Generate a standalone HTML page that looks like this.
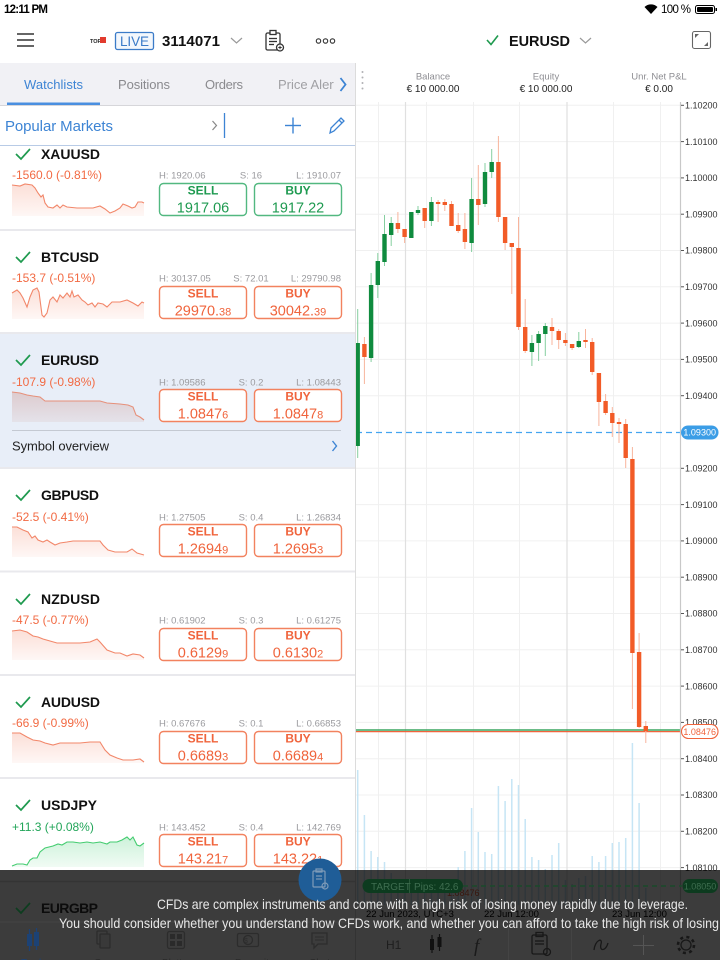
<!DOCTYPE html>
<html><head><meta charset="utf-8">
<style>
html,body{margin:0;padding:0;background:#fff;width:720px;height:960px;overflow:hidden}
svg{display:block;font-family:"Liberation Sans",Arial,sans-serif}
</style></head><body>
<svg width="720" height="960" viewBox="0 0 720 960" xmlns="http://www.w3.org/2000/svg">
<defs>
<linearGradient id="gr" x1="0" y1="0" x2="0" y2="1"><stop offset="0" stop-color="#f27a5a" stop-opacity="0.24"/><stop offset="1" stop-color="#f27a5a" stop-opacity="0.06"/></linearGradient>
<linearGradient id="ge" x1="0" y1="0" x2="0" y2="1"><stop offset="0" stop-color="#c98a80" stop-opacity="0.35"/><stop offset="1" stop-color="#c98a80" stop-opacity="0.12"/></linearGradient>
<linearGradient id="gg" x1="0" y1="0" x2="0" y2="1"><stop offset="0" stop-color="#4cd07a" stop-opacity="0.28"/><stop offset="1" stop-color="#4cd07a" stop-opacity="0.08"/></linearGradient>
<clipPath id="chart"><rect x="356" y="102" width="364" height="858"/></clipPath>
<clipPath id="tabclip"><rect x="0" y="63" width="334" height="42"/></clipPath>
</defs>

<!-- status bar -->
<text x="4" y="13" font-size="11.5" font-weight="bold" textLength="44" fill="#000">12:11 PM</text>
<path d="M651,14 L644.5,7 A9.5,9.5 0 0 1 657.5,7 Z" fill="#000"/>
<text x="661" y="13" font-size="11.5" textLength="30" fill="#000">100 %</text>
<rect x="695.5" y="5.5" width="19" height="8" rx="2" fill="none" stroke="#000" stroke-width="1"/>
<rect x="697" y="7" width="16" height="5" rx="1" fill="#000"/>
<rect x="715.5" y="8" width="1.5" height="3" fill="#000"/>

<!-- header -->
<g stroke="#333" stroke-width="1.6"><line x1="17" y1="34" x2="34" y2="34"/><line x1="17" y1="40" x2="34" y2="40"/><line x1="17" y1="46" x2="34" y2="46"/></g>
<text x="90" y="43" font-size="5.5" font-weight="bold" fill="#222">TOP</text>
<rect x="100" y="37" width="6" height="6" fill="#e23b2e"/>
<rect x="115.5" y="32.5" width="38" height="17" rx="2" fill="#f3f7fc" stroke="#3b7bc8" stroke-width="1.3"/>
<text x="134.5" y="46" font-size="13.5" text-anchor="middle" fill="#3b7bc8" textLength="29">LIVE</text>
<text x="162" y="46" font-size="15" font-weight="bold" fill="#111" textLength="58">3114071</text>
<polyline points="231,38 236.5,43 242,38" fill="none" stroke="#999" stroke-width="1.2"/>
<g fill="none" stroke="#333" stroke-width="1.3">
<rect x="266" y="33" width="14" height="17" rx="1.5"/>
<rect x="270" y="30.5" width="6" height="4" fill="#fff"/>
<line x1="269" y1="38.5" x2="277" y2="38.5"/><line x1="269" y1="41.5" x2="277" y2="41.5"/><line x1="269" y1="44.5" x2="274" y2="44.5"/>
<circle cx="280" cy="47.5" r="3.5" fill="#fff"/>
</g>
<g stroke="#333" stroke-width="1"><line x1="278.3" y1="47.5" x2="281.7" y2="47.5"/><line x1="280" y1="45.8" x2="280" y2="49.2"/></g>
<g fill="none" stroke="#333" stroke-width="1.1"><circle cx="318.5" cy="41" r="2.2"/><circle cx="325.5" cy="41" r="2.2"/><circle cx="332.5" cy="41" r="2.2"/></g>

<polyline points="487,40 491,44.5 498,35.5" fill="none" stroke="#1f9a4f" stroke-width="1.6"/>
<text x="509" y="46" font-size="14.5" font-weight="bold" fill="#111" textLength="61">EURUSD</text>
<polyline points="580,38 585.5,43 591,38" fill="none" stroke="#999" stroke-width="1.2"/>
<rect x="692.5" y="31.5" width="18" height="17" rx="2" fill="none" stroke="#666" stroke-width="1.1"/>
<path d="M695,34 L699,34 L695,38 Z" fill="#666"/><path d="M708,46 L704,46 L708,42 Z" fill="#666"/>

<!-- left tab bar -->
<rect x="0" y="63" width="355" height="42" fill="#f1f1f5"/>
<g clip-path="url(#tabclip)" font-size="13">
<text x="24" y="89" fill="#3d84d4" textLength="59">Watchlists</text>
<text x="118" y="89" fill="#8a8a8e" textLength="52">Positions</text>
<text x="205" y="89" fill="#8a8a8e" textLength="38">Orders</text>
<text x="278" y="89" fill="#a0a0a4">Price Alerts</text>
</g>
<polyline points="340.5,78 345.5,84.5 340.5,91" fill="none" stroke="#3d84d4" stroke-width="1.8"/>
<rect x="7" y="102.5" width="93" height="2.5" fill="#4a8fe0"/>
<line x1="0" y1="105.5" x2="355" y2="105.5" stroke="#d6d6da" stroke-width="1"/>

<!-- account info -->
<g fill="#b0b0b4"><circle cx="362.5" cy="72" r="1"/><circle cx="362.5" cy="77.5" r="1"/><circle cx="362.5" cy="83" r="1"/><circle cx="362.5" cy="88.5" r="1"/></g>
<g text-anchor="middle">
<text x="433" y="79.5" font-size="9.5" fill="#8e8e93">Balance</text>
<text x="433" y="92" font-size="10" fill="#222">€ 10 000.00</text>
<text x="546" y="79.5" font-size="9.5" fill="#8e8e93">Equity</text>
<text x="546" y="92" font-size="10" fill="#222">€ 10 000.00</text>
<text x="659" y="79.5" font-size="9.5" fill="#8e8e93">Unr. Net P&amp;L</text>
<text x="659" y="92" font-size="10" fill="#222">€ 0.00</text>
</g>

<!-- popular markets -->
<text x="5" y="131" font-size="15" fill="#3d84d4" textLength="108">Popular Markets</text>
<polyline points="212.5,121 216.5,125.5 212.5,130" fill="none" stroke="#888" stroke-width="1.2"/>
<line x1="224.5" y1="113" x2="224.5" y2="138" stroke="#3d84d4" stroke-width="1.3"/>
<g stroke="#3d84d4" stroke-width="1.4"><line x1="285" y1="125.5" x2="301" y2="125.5"/><line x1="293" y1="117.5" x2="293" y2="133.5"/></g>
<g fill="none" stroke="#3d84d4" stroke-width="1.3"><path d="M330,133 L331,128 L341,118 L344,121 L334,131 Z"/><line x1="339" y1="120" x2="342" y2="123"/></g>

<!-- EURUSD highlight -->
<rect x="0" y="333" width="355" height="135" fill="#e8eef8"/>

<!-- separators -->
<g stroke="#e9e9ed" stroke-width="2">
<line x1="0" y1="230" x2="355" y2="230"/><line x1="0" y1="333" x2="355" y2="333"/><line x1="0" y1="468" x2="355" y2="468"/>
<line x1="0" y1="571.5" x2="355" y2="571.5"/><line x1="0" y1="675" x2="355" y2="675"/><line x1="0" y1="778" x2="355" y2="778"/>
</g>
<line x1="0" y1="145.5" x2="355" y2="145.5" stroke="#b8cbe6" stroke-width="1"/>
<line x1="12" y1="430.5" x2="341" y2="430.5" stroke="#c4c9d2" stroke-width="1"/>
<text x="12" y="450.5" font-size="13" fill="#222" textLength="97">Symbol overview</text>
<polyline points="332.5,441 336.5,446 332.5,451" fill="none" stroke="#3d84d4" stroke-width="1.4"/>

<!-- sparklines -->
<polygon fill="url(#gr)" points="12,185 20,186 25,184 32,185 35,188 38,193 41,197 43,195 45,203 48,207 53,208 57,205 60,208 63,205 67,207 77,208 87,208 93,208 100,206 105,209 110,213 115,211 120,208 123,204 128,206 132,208 135,207 138,202 142,202 144,203 144,216 12,216"/>
<polyline fill="none" stroke="#f2876a" stroke-width="1.1" points="12,185 20,186 25,184 32,185 35,188 38,193 41,197 43,195 45,203 48,207 53,208 57,205 60,208 63,205 67,207 77,208 87,208 93,208 100,206 105,209 110,213 115,211 120,208 123,204 128,206 132,208 135,207 138,202 142,202 144,203"/>
<polygon fill="url(#gr)" points="12,293 17,290 20,293 23,298 27,307 30,297 33,290 37,288 39,292 42,315 44,317 47,313 50,300 53,297 57,302 60,295 63,298 67,293 70,297 72,291 74,297 78,295 82,300 85,302 88,305 92,303 95,307 98,303 103,304 107,307 112,302 120,302 127,300 133,303 138,306 142,302 144,303 144,319 12,319"/>
<polyline fill="none" stroke="#f2876a" stroke-width="1.1" points="12,293 17,290 20,293 23,298 27,307 30,297 33,290 37,288 39,292 42,315 44,317 47,313 50,300 53,297 57,302 60,295 63,298 67,293 70,297 72,291 74,297 78,295 82,300 85,302 88,305 92,303 95,307 98,303 103,304 107,307 112,302 120,302 127,300 133,303 138,306 142,302 144,303"/>
<polygon fill="url(#ge)" points="12,392 20,393 27,395 33,396 40,397 45,401 53,401 67,401 83,401 100,401 107,403 120,404 128,405 133,407 136,415 140,417 144,420 144,422 12,422"/>
<polyline fill="none" stroke="#e6907a" stroke-width="1.1" points="12,392 20,393 27,395 33,396 40,397 45,401 53,401 67,401 83,401 100,401 107,403 120,404 128,405 133,407 136,415 140,417 144,420"/>
<polygon fill="url(#gr)" points="12,527 17,527 23,530 28,532 32,538 35,536 38,540 43,542 47,540 50,542 55,545 60,543 67,542 73,541 87,541 100,541 103,545 108,550 115,552 127,552 132,549 137,553 144,555 144,557 12,557"/>
<polyline fill="none" stroke="#f2876a" stroke-width="1.1" points="12,527 17,527 23,530 28,532 32,538 35,536 38,540 43,542 47,540 50,542 55,545 60,543 67,542 73,541 87,541 100,541 103,545 108,550 115,552 127,552 132,549 137,553 144,555"/>
<polygon fill="url(#gr)" points="12,631 20,630 27,632 33,636 38,637 43,639 50,641 57,643 67,643 80,643 90,642 97,639 100,642 107,650 115,653 120,653 127,656 133,654 140,655 144,658 144,660 12,660"/>
<polyline fill="none" stroke="#f2876a" stroke-width="1.1" points="12,631 20,630 27,632 33,636 38,637 43,639 50,641 57,643 67,643 80,643 90,642 97,639 100,642 107,650 115,653 120,653 127,656 133,654 140,655 144,658"/>
<polygon fill="url(#gr)" points="12,733 20,733 27,737 33,740 40,741 45,743 53,745 60,743 70,743 80,743 90,742 100,742 105,750 110,755 117,758 123,760 133,760 140,759 144,762 144,763 12,763"/>
<polyline fill="none" stroke="#f2876a" stroke-width="1.1" points="12,733 20,733 27,737 33,740 40,741 45,743 53,745 60,743 70,743 80,743 90,742 100,742 105,750 110,755 117,758 123,760 133,760 140,759 144,762"/>
<polygon fill="url(#gg)" points="12,866 17,864 23,864 27,865 30,860 33,858 37,858 40,852 45,848 53,846 58,844 62,845 67,842 73,842 80,843 87,842 93,843 100,842 107,844 110,842 117,842 122,840 127,837 130,840 133,837 137,845 140,846 144,843 144,867 12,867"/>
<polyline fill="none" stroke="#44cc70" stroke-width="1.1" points="12,866 17,864 23,864 27,865 30,860 33,858 37,858 40,852 45,848 53,846 58,844 62,845 67,842 73,842 80,843 87,842 93,843 100,842 107,844 110,842 117,842 122,840 127,837 130,840 133,837 137,845 140,846 144,843"/>

<!-- rows -->
<g font-size="14" font-weight="bold" fill="#111">
<text x="41" y="159" textLength="59">XAUUSD</text>
<text x="41" y="262" textLength="58">BTCUSD</text>
<text x="41" y="365" textLength="58">EURUSD</text>
<text x="41" y="500" textLength="58">GBPUSD</text>
<text x="41" y="604" textLength="59">NZDUSD</text>
<text x="41" y="707" textLength="59">AUDUSD</text>
<text x="41" y="810" textLength="56">USDJPY</text>
</g>
<g fill="none" stroke="#1f9a4f" stroke-width="1.7">
<polyline points="16,154 21,159 30,149"/><polyline points="16,257 21,262 30,252"/><polyline points="16,360 21,365 30,355"/>
<polyline points="16,495 21,500 30,490"/><polyline points="16,599 21,604 30,594"/><polyline points="16,702 21,707 30,697"/><polyline points="16,805 21,810 30,800"/>
</g>
<g font-size="12" fill="#f26a43">
<text x="12" y="179">-1560.0 (-0.81%)</text>
<text x="12" y="282">-153.7 (-0.51%)</text>
<text x="12" y="386">-107.9 (-0.98%)</text>
<text x="12" y="521">-52.5 (-0.41%)</text>
<text x="12" y="624">-47.5 (-0.77%)</text>
<text x="12" y="727">-66.9 (-0.99%)</text>
<text x="12" y="831" fill="#22a559">+11.3 (+0.08%)</text>
</g>
<g font-size="9.5" fill="#9a9a9e">
<text x="159" y="178.5">H: 1920.06</text><text x="251" y="178.5" text-anchor="middle">S: 16</text><text x="341" y="178.5" text-anchor="end">L: 1910.07</text>
<text x="159" y="281.5">H: 30137.05</text><text x="251" y="281.5" text-anchor="middle">S: 72.01</text><text x="341" y="281.5" text-anchor="end">L: 29790.98</text>
<text x="159" y="385.5">H: 1.09586</text><text x="251" y="385.5" text-anchor="middle">S: 0.2</text><text x="341" y="385.5" text-anchor="end">L: 1.08443</text>
<text x="159" y="520.5">H: 1.27505</text><text x="251" y="520.5" text-anchor="middle">S: 0.4</text><text x="341" y="520.5" text-anchor="end">L: 1.26834</text>
<text x="159" y="623.5">H: 0.61902</text><text x="251" y="623.5" text-anchor="middle">S: 0.3</text><text x="341" y="623.5" text-anchor="end">L: 0.61275</text>
<text x="159" y="726.5">H: 0.67676</text><text x="251" y="726.5" text-anchor="middle">S: 0.1</text><text x="341" y="726.5" text-anchor="end">L: 0.66853</text>
<text x="159" y="830.5">H: 143.452</text><text x="251" y="830.5" text-anchor="middle">S: 0.4</text><text x="341" y="830.5" text-anchor="end">L: 142.769</text>
</g>
<!-- buttons -->
<g fill="#fff" stroke-width="1.4">
<rect x="159.5" y="183.5" width="87" height="32" rx="4" stroke="#52b880"/><rect x="254.5" y="183.5" width="87" height="32" rx="4" stroke="#52b880"/>
<rect x="159.5" y="286.5" width="87" height="32" rx="4" stroke="#f2825f"/><rect x="254.5" y="286.5" width="87" height="32" rx="4" stroke="#f2825f"/>
<rect x="159.5" y="389.5" width="87" height="32" rx="4" stroke="#f2825f"/><rect x="254.5" y="389.5" width="87" height="32" rx="4" stroke="#f2825f"/>
<rect x="159.5" y="524.5" width="87" height="32" rx="4" stroke="#f2825f"/><rect x="254.5" y="524.5" width="87" height="32" rx="4" stroke="#f2825f"/>
<rect x="159.5" y="628.5" width="87" height="32" rx="4" stroke="#f2825f"/><rect x="254.5" y="628.5" width="87" height="32" rx="4" stroke="#f2825f"/>
<rect x="159.5" y="731.5" width="87" height="32" rx="4" stroke="#f2825f"/><rect x="254.5" y="731.5" width="87" height="32" rx="4" stroke="#f2825f"/>
<rect x="159.5" y="834.5" width="87" height="32" rx="4" stroke="#f2825f"/><rect x="254.5" y="834.5" width="87" height="32" rx="4" stroke="#f2825f"/>
</g>
<g font-size="12" font-weight="bold" text-anchor="middle" fill="#f0643c">
<text x="203" y="194.5" fill="#1e9a50">SELL</text><text x="298" y="194.5" fill="#1e9a50">BUY</text>
<text x="203" y="297.5">SELL</text><text x="298" y="297.5">BUY</text>
<text x="203" y="400.5">SELL</text><text x="298" y="400.5">BUY</text>
<text x="203" y="535.5">SELL</text><text x="298" y="535.5">BUY</text>
<text x="203" y="639.5">SELL</text><text x="298" y="639.5">BUY</text>
<text x="203" y="742.5">SELL</text><text x="298" y="742.5">BUY</text>
<text x="203" y="845.5">SELL</text><text x="298" y="845.5">BUY</text>
</g>
<g font-size="14.5" text-anchor="middle" fill="#f0643c">
<text x="203" y="212.5" fill="#1e9a50">1917.06</text><text x="298" y="212.5" fill="#1e9a50">1917.22</text>
<text x="203" y="315.5">29970.<tspan font-size="11">38</tspan></text><text x="298" y="315.5">30042.<tspan font-size="11">39</tspan></text>
<text x="203" y="418.5">1.0847<tspan font-size="11">6</tspan></text><text x="298" y="418.5">1.0847<tspan font-size="11">8</tspan></text>
<text x="203" y="553.5">1.2694<tspan font-size="11">9</tspan></text><text x="298" y="553.5">1.2695<tspan font-size="11">3</tspan></text>
<text x="203" y="657.5">0.6129<tspan font-size="11">9</tspan></text><text x="298" y="657.5">0.6130<tspan font-size="11">2</tspan></text>
<text x="203" y="760.5">0.6689<tspan font-size="11">3</tspan></text><text x="298" y="760.5">0.6689<tspan font-size="11">4</tspan></text>
<text x="203" y="863.5">143.21<tspan font-size="11">7</tspan></text><text x="298" y="863.5">143.22<tspan font-size="11">1</tspan></text>
</g>

<line x1="355.5" y1="63" x2="355.5" y2="960" stroke="#dcdcdc" stroke-width="1"/>

<!-- CHART -->
<g clip-path="url(#chart)">
<g stroke="#f0f0f0" stroke-width="1">
<line x1="356" y1="105.3" x2="680" y2="105.3"/><line x1="356" y1="141.6" x2="680" y2="141.6"/><line x1="356" y1="177.9" x2="680" y2="177.9"/>
<line x1="356" y1="214.2" x2="680" y2="214.2"/><line x1="356" y1="250.5" x2="680" y2="250.5"/><line x1="356" y1="286.8" x2="680" y2="286.8"/>
<line x1="356" y1="323.1" x2="680" y2="323.1"/><line x1="356" y1="359.4" x2="680" y2="359.4"/><line x1="356" y1="395.7" x2="680" y2="395.7"/>
<line x1="356" y1="468.3" x2="680" y2="468.3"/><line x1="356" y1="504.6" x2="680" y2="504.6"/><line x1="356" y1="540.9" x2="680" y2="540.9"/>
<line x1="356" y1="577.2" x2="680" y2="577.2"/><line x1="356" y1="613.5" x2="680" y2="613.5"/><line x1="356" y1="649.8" x2="680" y2="649.8"/>
<line x1="356" y1="686.1" x2="680" y2="686.1"/><line x1="356" y1="722.4" x2="680" y2="722.4"/><line x1="356" y1="758.7" x2="680" y2="758.7"/>
<line x1="356" y1="795" x2="680" y2="795"/><line x1="356" y1="831.3" x2="680" y2="831.3"/><line x1="356" y1="867.6" x2="680" y2="867.6"/>
<line x1="378.5" y1="102" x2="378.5" y2="910"/><line x1="426.5" y1="102" x2="426.5" y2="910"/><line x1="473.5" y1="102" x2="473.5" y2="910"/>
<line x1="519.5" y1="102" x2="519.5" y2="910"/><line x1="613.5" y1="102" x2="613.5" y2="910"/><line x1="660.5" y1="102" x2="660.5" y2="910"/>
</g>
<g stroke="#e0e0e0" stroke-width="1.2"><line x1="405.5" y1="102" x2="405.5" y2="910"/><line x1="567" y1="102" x2="567" y2="910"/></g>

<!-- volume -->
<g stroke="#c6e5f5" stroke-width="1.5">
<line x1="357.7" y1="770" x2="357.7" y2="905"/><line x1="364.4" y1="815" x2="364.4" y2="905"/><line x1="371.1" y1="851" x2="371.1" y2="905"/>
<line x1="377.8" y1="857" x2="377.8" y2="905"/><line x1="384.5" y1="862" x2="384.5" y2="905"/><line x1="391.2" y1="873" x2="391.2" y2="905"/>
<line x1="397.9" y1="885" x2="397.9" y2="905"/><line x1="404.6" y1="888" x2="404.6" y2="905"/><line x1="411.3" y1="884" x2="411.3" y2="905"/>
<line x1="418" y1="890" x2="418" y2="905"/><line x1="424.7" y1="886" x2="424.7" y2="905"/><line x1="431.4" y1="884" x2="431.4" y2="905"/>
<line x1="438.1" y1="889" x2="438.1" y2="905"/><line x1="444.8" y1="889" x2="444.8" y2="905"/><line x1="451.5" y1="880" x2="451.5" y2="905"/>
<line x1="458.2" y1="867" x2="458.2" y2="905"/><line x1="464.9" y1="851" x2="464.9" y2="905"/><line x1="471.6" y1="808" x2="471.6" y2="905"/>
<line x1="478.3" y1="832" x2="478.3" y2="905"/><line x1="485" y1="852" x2="485" y2="905"/><line x1="491.7" y1="854" x2="491.7" y2="905"/>
<line x1="498.4" y1="786" x2="498.4" y2="905"/><line x1="505.1" y1="801" x2="505.1" y2="905"/><line x1="511.8" y1="779" x2="511.8" y2="905"/>
<line x1="518.5" y1="785" x2="518.5" y2="905"/><line x1="525.2" y1="819" x2="525.2" y2="905"/><line x1="531.9" y1="857" x2="531.9" y2="905"/>
<line x1="538.6" y1="860" x2="538.6" y2="905"/><line x1="545.3" y1="869" x2="545.3" y2="905"/><line x1="552" y1="855" x2="552" y2="905"/>
<line x1="558.7" y1="843" x2="558.7" y2="905"/><line x1="565.4" y1="880" x2="565.4" y2="905"/><line x1="572.1" y1="884" x2="572.1" y2="905"/>
<line x1="578.8" y1="878" x2="578.8" y2="905"/><line x1="585.5" y1="876" x2="585.5" y2="905"/><line x1="592.2" y1="856" x2="592.2" y2="905"/>
<line x1="598.9" y1="862" x2="598.9" y2="905"/><line x1="605.6" y1="856" x2="605.6" y2="905"/><line x1="612.3" y1="843" x2="612.3" y2="905"/>
<line x1="619" y1="842" x2="619" y2="905"/><line x1="625.7" y1="838" x2="625.7" y2="905"/><line x1="632.4" y1="743" x2="632.4" y2="905"/>
<line x1="639.1" y1="803" x2="639.1" y2="905"/><line x1="645.8" y1="888" x2="645.8" y2="905"/>
</g>

<!-- price lines -->
<line x1="356" y1="432.5" x2="680" y2="432.5" stroke="#45a5f0" stroke-width="1.2" stroke-dasharray="6 4"/>
<line x1="356" y1="730" x2="680" y2="730" stroke="#3aa560" stroke-width="1.4"/>
<line x1="356" y1="731.6" x2="680" y2="731.6" stroke="#f0643c" stroke-width="1.2"/>

<!-- wicks -->
<g stroke="#86cfa0" stroke-width="1">
<line x1="357.7" y1="309" x2="357.7" y2="458"/><line x1="371.1" y1="273" x2="371.1" y2="362"/><line x1="377.8" y1="253" x2="377.8" y2="298"/>
<line x1="384.5" y1="215" x2="384.5" y2="266"/><line x1="391.2" y1="217" x2="391.2" y2="246"/><line x1="411.3" y1="212" x2="411.3" y2="238"/>
<line x1="418" y1="206" x2="418" y2="215"/><line x1="431.4" y1="197" x2="431.4" y2="226"/><line x1="471.6" y1="178" x2="471.6" y2="252"/>
<line x1="485" y1="163" x2="485" y2="207"/><line x1="491.7" y1="149" x2="491.7" y2="178"/><line x1="531.9" y1="335" x2="531.9" y2="366"/>
<line x1="538.6" y1="331" x2="538.6" y2="361"/><line x1="545.3" y1="323" x2="545.3" y2="356"/><line x1="578.8" y1="332" x2="578.8" y2="348"/>
</g>
<g stroke="#f8b49c" stroke-width="1">
<line x1="364.4" y1="337" x2="364.4" y2="384"/><line x1="397.9" y1="212" x2="397.9" y2="233"/><line x1="404.6" y1="229" x2="404.6" y2="243"/>
<line x1="424.7" y1="208" x2="424.7" y2="228"/><line x1="438.1" y1="200" x2="438.1" y2="222"/><line x1="444.8" y1="199" x2="444.8" y2="211"/>
<line x1="451.5" y1="201" x2="451.5" y2="226"/><line x1="458.2" y1="213" x2="458.2" y2="233"/><line x1="464.9" y1="213" x2="464.9" y2="249"/>
<line x1="478.3" y1="165" x2="478.3" y2="225"/><line x1="498.4" y1="136" x2="498.4" y2="222"/><line x1="505.1" y1="217" x2="505.1" y2="250"/>
<line x1="511.8" y1="243" x2="511.8" y2="294"/><line x1="518.5" y1="217" x2="518.5" y2="330"/><line x1="525.2" y1="299" x2="525.2" y2="353"/>
<line x1="552" y1="318" x2="552" y2="345"/><line x1="558.7" y1="329" x2="558.7" y2="349"/><line x1="565.4" y1="333" x2="565.4" y2="346"/>
<line x1="572.1" y1="344" x2="572.1" y2="350"/><line x1="585.5" y1="329" x2="585.5" y2="348"/><line x1="592.2" y1="338" x2="592.2" y2="375"/>
<line x1="598.9" y1="373" x2="598.9" y2="426"/><line x1="605.6" y1="394" x2="605.6" y2="415"/><line x1="612.3" y1="407" x2="612.3" y2="437"/>
<line x1="619" y1="418" x2="619" y2="443"/><line x1="625.7" y1="419" x2="625.7" y2="468"/><line x1="632.4" y1="447" x2="632.4" y2="709"/>
<line x1="639.1" y1="633" x2="639.1" y2="728"/><line x1="645.8" y1="721" x2="645.8" y2="743"/>
</g>
<!-- bodies -->
<g fill="#0f8b3e">
<rect x="355.5" y="343" width="4.4" height="103"/><rect x="368.9" y="285" width="4.4" height="73"/><rect x="375.6" y="261" width="4.4" height="24"/>
<rect x="382.3" y="234" width="4.4" height="28"/><rect x="389" y="223" width="4.4" height="12"/><rect x="409.1" y="212" width="4.4" height="26"/>
<rect x="415.8" y="210" width="4.4" height="3"/><rect x="429.2" y="202" width="4.4" height="19"/><rect x="469.4" y="199" width="4.4" height="44"/>
<rect x="482.8" y="172" width="4.4" height="32"/><rect x="489.5" y="162" width="4.4" height="10"/><rect x="529.7" y="343" width="4.4" height="9"/>
<rect x="536.4" y="334" width="4.4" height="9"/><rect x="543.1" y="326" width="4.4" height="8"/><rect x="576.6" y="341" width="4.4" height="6"/>
</g>
<g fill="#f25b27">
<rect x="362.2" y="344" width="4.4" height="13"/><rect x="395.7" y="223" width="4.4" height="6"/><rect x="402.4" y="229" width="4.4" height="8"/>
<rect x="422.5" y="208" width="4.4" height="13"/><rect x="435.9" y="202" width="4.4" height="2"/><rect x="442.6" y="202" width="4.4" height="3"/>
<rect x="449.3" y="204" width="4.4" height="22"/><rect x="456" y="225" width="4.4" height="6"/><rect x="462.7" y="229" width="4.4" height="13"/>
<rect x="476.1" y="199" width="4.4" height="6"/><rect x="496.2" y="162" width="4.4" height="55"/><rect x="502.9" y="217" width="4.4" height="26"/>
<rect x="509.6" y="243" width="4.4" height="4"/><rect x="516.3" y="248" width="4.4" height="79"/><rect x="523" y="327" width="4.4" height="24"/>
<rect x="549.8" y="327" width="4.4" height="4"/><rect x="556.5" y="331" width="4.4" height="9"/><rect x="563.2" y="340" width="4.4" height="3"/>
<rect x="569.9" y="344" width="4.4" height="4"/><rect x="583.3" y="340" width="4.4" height="2"/><rect x="590" y="342" width="4.4" height="30"/>
<rect x="596.7" y="373" width="4.4" height="29"/><rect x="603.4" y="401" width="4.4" height="12"/><rect x="610.1" y="413" width="4.4" height="10"/>
<rect x="616.8" y="422" width="4.4" height="2"/><rect x="623.5" y="424" width="4.4" height="34"/><rect x="630.2" y="459" width="4.4" height="194"/>
<rect x="636.9" y="652" width="4.4" height="75"/><rect x="643.6" y="726" width="4.4" height="5"/>
</g>

<!-- axis -->
<line x1="680.5" y1="102" x2="680.5" y2="910" stroke="#c8c8c8" stroke-width="1.2"/>
<g stroke="#555" stroke-width="1">
<line x1="681" y1="105.3" x2="684" y2="105.3"/><line x1="681" y1="141.6" x2="684" y2="141.6"/><line x1="681" y1="177.9" x2="684" y2="177.9"/>
<line x1="681" y1="214.2" x2="684" y2="214.2"/><line x1="681" y1="250.5" x2="684" y2="250.5"/><line x1="681" y1="286.8" x2="684" y2="286.8"/>
<line x1="681" y1="323.1" x2="684" y2="323.1"/><line x1="681" y1="359.4" x2="684" y2="359.4"/><line x1="681" y1="395.7" x2="684" y2="395.7"/>
<line x1="681" y1="468.3" x2="684" y2="468.3"/><line x1="681" y1="504.6" x2="684" y2="504.6"/><line x1="681" y1="540.9" x2="684" y2="540.9"/>
<line x1="681" y1="577.2" x2="684" y2="577.2"/><line x1="681" y1="613.5" x2="684" y2="613.5"/><line x1="681" y1="649.8" x2="684" y2="649.8"/>
<line x1="681" y1="686.1" x2="684" y2="686.1"/><line x1="681" y1="722.4" x2="684" y2="722.4"/><line x1="681" y1="758.7" x2="684" y2="758.7"/>
<line x1="681" y1="795" x2="684" y2="795"/><line x1="681" y1="831.3" x2="684" y2="831.3"/><line x1="681" y1="867.6" x2="684" y2="867.6"/>
</g>
<g font-size="9" fill="#333">
<text x="685" y="108.5">1.10200</text><text x="685" y="144.8">1.10100</text><text x="685" y="181.1">1.10000</text>
<text x="685" y="217.4">1.09900</text><text x="685" y="253.7">1.09800</text><text x="685" y="290">1.09700</text>
<text x="685" y="326.3">1.09600</text><text x="685" y="362.6">1.09500</text><text x="685" y="398.9">1.09400</text>
<text x="685" y="471.5">1.09200</text><text x="685" y="507.8">1.09100</text><text x="685" y="544.1">1.09000</text>
<text x="685" y="580.4">1.08900</text><text x="685" y="616.7">1.08800</text><text x="685" y="653">1.08700</text>
<text x="685" y="689.3">1.08600</text><text x="685" y="725.6">1.08500</text><text x="685" y="761.9">1.08400</text>
<text x="685" y="798.2">1.08300</text><text x="685" y="834.5">1.08200</text><text x="685" y="870.8">1.08100</text>
</g>
<rect x="681" y="425.5" width="37.5" height="14" rx="7" fill="#3b9de6"/>
<text x="699.7" y="435.7" font-size="9" fill="#fff" text-anchor="middle">1.09300</text>
<rect x="681.5" y="724.5" width="36.5" height="14" rx="7" fill="#fff" stroke="#f0643c" stroke-width="1.1"/>
<text x="699.7" y="734.8" font-size="9" fill="#f0643c" text-anchor="middle">1.08476</text>

<!-- underlying lower chart text -->
<text x="447" y="896" font-size="9" fill="#f0643c">1.08476</text>
<g font-size="9.5" fill="#000">
<text x="366" y="917">22 Jun 2023, UTC+3</text>
<text x="484" y="917">22 Jun 12:00</text>
<text x="612" y="917">23 Jun 12:00</text>
</g>
</g>

<!-- overlay -->
<rect x="0" y="870" width="720" height="90" fill="#000" fill-opacity="0.765"/>

<!-- dimmed items -->
<line x1="0" y1="881.5" x2="355" y2="881.5" stroke="#343434" stroke-width="1.5"/>
<polyline points="16,908 21,913 30,903" fill="none" stroke="#0d3d1f" stroke-width="1.7"/>
<text x="41" y="913" font-size="14" font-weight="bold" fill="#0c0c0c" textLength="57">EURGBP</text>
<line x1="0" y1="922" x2="355" y2="922" stroke="#444" stroke-width="1"/>
<line x1="355.5" y1="870" x2="355.5" y2="960" stroke="#333" stroke-width="1"/>
<!-- tab icons -->
<g stroke="#1c4275" stroke-width="1.3"><line x1="29.5" y1="929" x2="29.5" y2="951"/><line x1="36.5" y1="928" x2="36.5" y2="950"/></g>
<g fill="#1c4275"><rect x="27" y="934" width="5" height="12"/><rect x="34" y="932" width="5" height="14"/></g>
<g fill="none" stroke="#2c2c2c" stroke-width="1.3">
<rect x="97" y="931" width="10" height="13" rx="1"/><rect x="100" y="934" width="10" height="14" rx="1" fill="#393939"/>
<rect x="167.5" y="931.5" width="17" height="17" rx="2"/>
<rect x="237.5" y="933.5" width="21" height="13" rx="1.5"/><circle cx="248" cy="940" r="4.5"/>
<path d="M312,933 H327 V944 H318 L314,948 V944 H312 Z"/>
</g>
<g fill="#2a2a2a"><rect x="170" y="934" width="5" height="5"/><rect x="177" y="934" width="5" height="5"/><rect x="170" y="941" width="5" height="5"/><rect x="177" y="941" width="5" height="5"/></g>
<text x="246" y="943" font-size="7" fill="#2c2c2c" text-anchor="middle">$</text>
<g stroke="#2c2c2c" stroke-width="1"><line x1="315" y1="937" x2="324" y2="937"/><line x1="315" y1="940" x2="324" y2="940"/></g>
<g font-size="10" fill="#2a2a2a">
<text x="21" y="966" fill="#1c4275">Trade</text><text x="94" y="966">Copy</text><text x="162" y="966">Blotter</text><text x="235" y="966">Deposit</text><text x="309" y="966">Chat</text>
</g>
<!-- chart toolbar -->
<text x="386" y="949" font-size="12" fill="#1e1e1e">H1</text>
<g stroke="#111" stroke-width="1.2"><line x1="432" y1="935" x2="432" y2="953"/><line x1="439.5" y1="934" x2="439.5" y2="951"/></g>
<g fill="#111"><rect x="430" y="939" width="4" height="11"/><rect x="437.5" y="937" width="4" height="10"/></g>
<text x="474" y="952" font-size="19" font-style="italic" font-family="Liberation Serif, serif" fill="#1a1a1a">f</text>
<line x1="508.5" y1="928" x2="508.5" y2="960" stroke="#444" stroke-width="1"/>
<line x1="571.5" y1="928" x2="571.5" y2="960" stroke="#444" stroke-width="1"/>
<g fill="none" stroke="#181818" stroke-width="1.3">
<rect x="532" y="935" width="15" height="19" rx="1.5"/><rect x="536" y="932.5" width="7" height="4"/>
<line x1="535" y1="941" x2="544" y2="941"/><line x1="535" y1="944" x2="544" y2="944"/><circle cx="547" cy="952" r="3.5"/>
<path d="M594,950 C595,940 603,937 601,944 C599,952 606,951 608,943"/>
<circle cx="686" cy="945" r="5"/>
<circle cx="686" cy="945" r="8" stroke-width="2.6" stroke-dasharray="3 3.3"/>
</g>
<g stroke="#555" stroke-width="1"><line x1="643.5" y1="935" x2="643.5" y2="955"/><line x1="633" y1="945.5" x2="654" y2="945.5"/></g>
<!-- target -->
<line x1="463" y1="886" x2="682" y2="886" stroke="#1a4a2a" stroke-width="1.5" stroke-dasharray="5 4"/>
<rect x="362.5" y="879" width="100.5" height="14" rx="7" fill="#0d3b1f"/>
<line x1="409.5" y1="879" x2="409.5" y2="893" stroke="#2a5a3a" stroke-width="1"/>
<text x="371" y="890" font-size="10" fill="#3f6e50">TARGET</text>
<text x="414" y="890" font-size="10" fill="#3f6e50">Pips: 42.6</text>
<rect x="682.5" y="879" width="35.5" height="14" rx="7" fill="#0d3b1f"/>
<text x="700" y="889.5" font-size="9" fill="#3f6e50" text-anchor="middle">1.08050</text>

<!-- FAB -->
<circle cx="320" cy="880" r="21.5" fill="#1f5d97"/>
<g fill="none" stroke="#7f9bb8" stroke-width="1.2">
<rect x="313" y="871" width="12" height="16" rx="1"/><rect x="316" y="869" width="6" height="3"/>
<line x1="316" y1="876" x2="322" y2="876"/><line x1="316" y1="879" x2="322" y2="879"/><circle cx="325" cy="886" r="3"/>
</g>

<!-- disclaimer -->
<text x="157" y="909" font-size="14" fill="#e8e8e8" textLength="531" lengthAdjust="spacingAndGlyphs">CFDs are complex instruments and come with a high risk of losing money rapidly due to leverage.</text>
<text x="59" y="928" font-size="14" fill="#e8e8e8" textLength="660" lengthAdjust="spacingAndGlyphs">You should consider whether you understand how CFDs work, and whether you can afford to take the high risk of losing</text>
</svg>
</body></html>
